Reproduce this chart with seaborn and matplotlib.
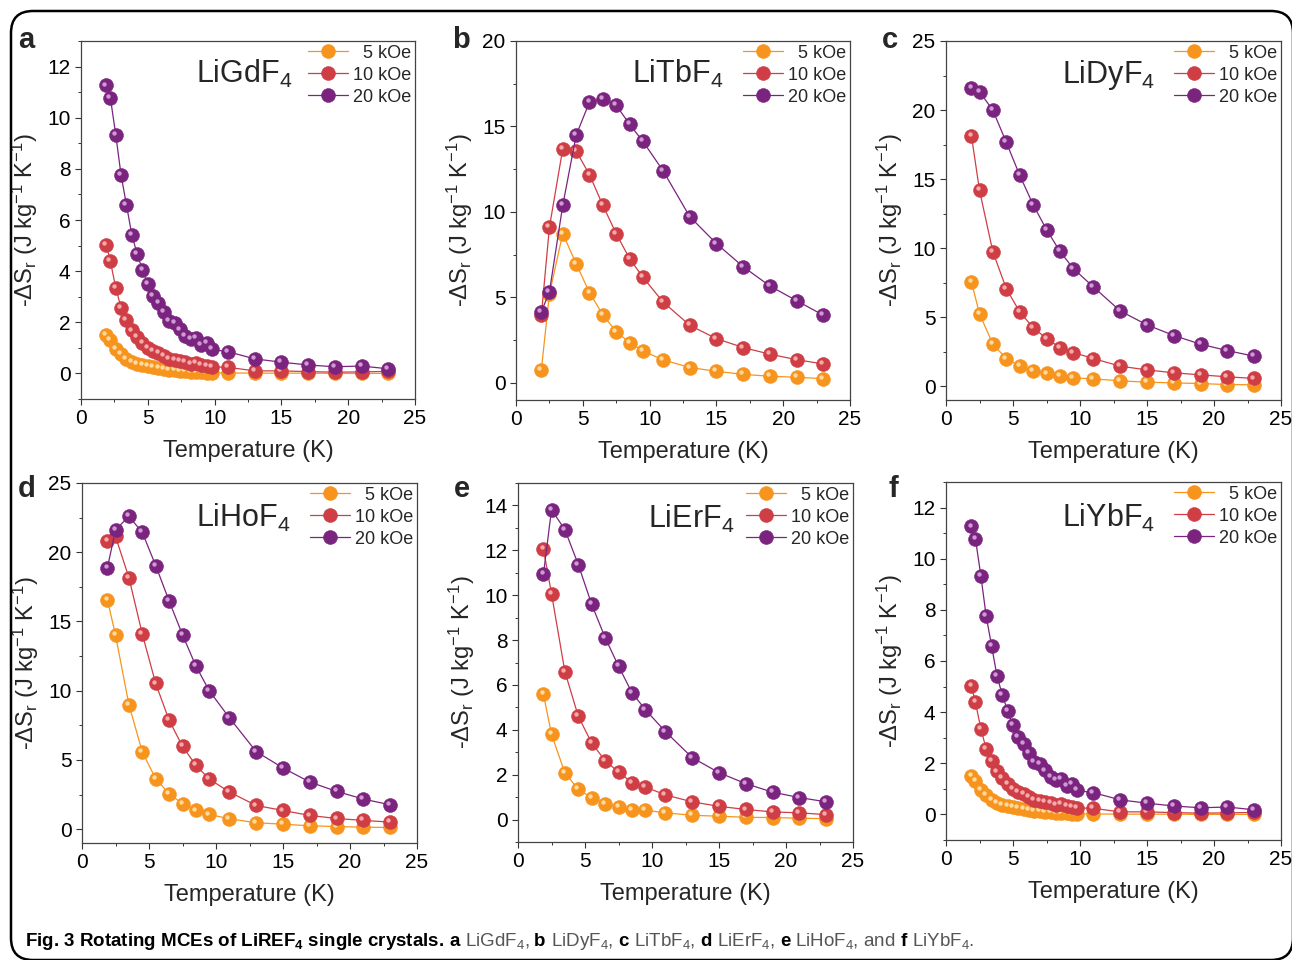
import matplotlib
matplotlib.use("Agg")
import matplotlib.pyplot as plt
import matplotlib.patches as mpatches
from matplotlib import font_manager
from matplotlib.ticker import MultipleLocator
from matplotlib.transforms import offset_copy
import seaborn as sns

# temperatures (K)
T_fine = [1.9, 2.2, 2.6, 3.0, 3.4, 3.8, 4.2, 4.6, 5.0, 5.4, 5.8, 6.2, 6.6, 7.0,
          7.4, 7.8, 8.2, 8.6, 9.0, 9.4, 9.8, 11, 13, 15, 17, 19, 21, 23]
T_std = [1.9, 2.5, 3.5, 4.5, 5.5, 6.5, 7.5, 8.5, 9.5, 11, 13, 15, 17, 19, 21, 23]

# a  LiGdF4
gd_5 = [1.5, 1.3, 0.95, 0.75, 0.58, 0.46, 0.38, 0.33, 0.3, 0.25, 0.21, 0.18, 0.15, 0.12,
        0.1, 0.08, 0.06, 0.05, 0.04, 0.03, 0.02, 0.02, 0.01, 0.01, 0.01, 0.0, 0.0, 0.0]
gd_10 = [5.02, 4.38, 3.35, 2.56, 2.1, 1.68, 1.42, 1.18, 1.0, 0.86, 0.8, 0.68, 0.58, 0.53,
         0.5, 0.44, 0.36, 0.42, 0.33, 0.3, 0.25, 0.24, 0.1, 0.1, 0.07, 0.05, 0.06, 0.08]
gd_20 = [11.26, 10.77, 9.34, 7.75, 6.6, 5.43, 4.67, 4.06, 3.48, 3.02, 2.76, 2.4, 2.04, 1.98,
         1.72, 1.46, 1.35, 1.39, 1.13, 1.2, 0.94, 0.85, 0.57, 0.44, 0.33, 0.26, 0.29, 0.18]

# b  LiTbF4
tb_5 = [0.78, 5.2, 8.73, 6.98, 5.28, 3.98, 3.0, 2.36, 1.87, 1.35, 0.9, 0.68, 0.5, 0.39, 0.33, 0.25]
tb_10 = [3.98, 9.1, 13.7, 13.57, 12.18, 10.39, 8.73, 7.27, 6.18, 4.74, 3.37, 2.59, 2.07, 1.68, 1.36, 1.11]
tb_20 = [4.17, 5.32, 10.39, 14.48, 16.43, 16.63, 16.24, 15.13, 14.13, 12.42, 9.73, 8.15, 6.8, 5.67, 4.81, 3.96]

# c  LiDyF4
dy_5 = [7.55, 5.24, 3.04, 2.0, 1.45, 1.11, 0.92, 0.72, 0.6, 0.53, 0.39, 0.29, 0.24, 0.19, 0.12, 0.1]
dy_10 = [18.12, 14.19, 9.72, 7.07, 5.38, 4.25, 3.45, 2.8, 2.44, 2.0, 1.45, 1.18, 0.97, 0.82, 0.68, 0.56]
dy_20 = [21.62, 21.33, 19.98, 17.66, 15.28, 13.15, 11.34, 9.77, 8.52, 7.19, 5.45, 4.44, 3.67, 3.04, 2.58, 2.17]

# d  LiHoF4
ho_5 = [16.55, 14.02, 9.0, 5.57, 3.64, 2.56, 1.83, 1.35, 1.06, 0.75, 0.46, 0.36, 0.24, 0.19, 0.14, 0.12]
ho_10 = [20.78, 21.14, 18.17, 14.09, 10.52, 7.87, 5.98, 4.61, 3.62, 2.68, 1.71, 1.35, 0.99, 0.77, 0.63, 0.51]
ho_20 = [18.89, 21.62, 22.59, 21.43, 19.04, 16.48, 14.04, 11.78, 9.99, 8.04, 5.6, 4.42, 3.4, 2.73, 2.17, 1.76]

# e  LiErF4
er_5 = [5.58, 3.8, 2.08, 1.35, 0.96, 0.71, 0.56, 0.42, 0.42, 0.3, 0.19, 0.15, 0.1, 0.09, 0.06, 0.04]
er_10 = [12.05, 10.07, 6.59, 4.6, 3.41, 2.63, 2.12, 1.65, 1.45, 1.1, 0.79, 0.59, 0.45, 0.34, 0.3, 0.22]
er_20 = [10.94, 13.81, 12.92, 11.36, 9.59, 8.11, 6.84, 5.66, 4.9, 3.92, 2.76, 2.09, 1.6, 1.22, 0.98, 0.79]

# f  LiYbF4 (same curves as panel a in the figure)
yb_5 = list(gd_5)
yb_10 = list(gd_10)
yb_20 = list(gd_20)

fields = ["  5 kOe", "10 kOe", "20 kOe"]
colors = ["#F7941D", "#CF3D45", "#7A237F"]
lights = ["#FFE2B0", "#F6B7B9", "#D9A8DC"]

W, H = 1292, 960

sns.set_style("ticks")
plt.rcParams["font.family"] = ["Liberation Sans", "DejaVu Sans"]
plt.rcParams["mathtext.fontset"] = "custom"
plt.rcParams["mathtext.rm"] = "Liberation Sans"
plt.rcParams["mathtext.it"] = "Liberation Sans"
plt.rcParams["mathtext.bf"] = "Liberation Sans:bold"
plt.rcParams["mathtext.default"] = "rm"

fig = plt.figure(figsize=(W / 100, H / 100), dpi=100)


def px_axes(x0, y0, x1, y1):
    return fig.add_axes([x0 / W, 1 - y1 / H, (x1 - x0) / W, (y1 - y0) / H])


panels = [
    # letter, name, T, series, ylim, major, minor, axes box, name pos, letter pos
    ("a", "LiGdF$_4$", T_fine, [gd_5, gd_10, gd_20], (-1, 13), 2, 1,
     (81, 41, 415, 399), (0.344, 0.883), (18, 48)),
    ("b", "LiTbF$_4$", T_std, [tb_5, tb_10, tb_20], (-1, 20), 5, 2.5,
     (516, 41, 850, 400), (0.347, 0.883), (452, 48)),
    ("c", "LiDyF$_4$", T_std, [dy_5, dy_10, dy_20], (-1, 25), 5, 2.5,
     (946, 41, 1281, 400), (0.346, 0.883), (882, 48)),
    ("d", "LiHoF$_4$", T_std, [ho_5, ho_10, ho_20], (-1, 25), 5, 2.5,
     (82, 483, 417, 843), (0.340, 0.878), (18, 497)),
    ("e", "LiErF$_4$", T_std, [er_5, er_10, er_20], (-1, 15), 2, 1,
     (518, 483, 853, 842), (0.388, 0.875), (454, 497)),
    ("f", "LiYbF$_4$", T_fine, [yb_5, yb_10, yb_20], (-1, 13), 2, 1,
     (946, 482, 1281, 840), (0.346, 0.874), (888, 497)),
]

for letter, name, T, series, ylim, major, minor, box, npos, lpos in panels:
    ax = px_axes(*box)
    for i, (vals, lab, c, lc) in enumerate(zip(series, fields, colors, lights)):
        sns.lineplot(x=T, y=vals, ax=ax, color=c, lw=0.9, marker="o", markersize=10,
                     markeredgecolor=c, markeredgewidth=0.4, label=lab, sort=False,
                     estimator=None, zorder=3 + i * 0.1)
        # little shine on each ball
        shine = offset_copy(ax.transData, fig=fig, x=-1.4, y=1.4, units="points")
        sns.scatterplot(x=T, y=vals, ax=ax, color=lc, s=10, linewidth=0, alpha=0.9,
                        transform=shine, legend=False, zorder=3.05 + i * 0.1)
    ax.set_xlim(0, 25)
    ax.set_ylim(*ylim)
    ax.xaxis.set_major_locator(MultipleLocator(5))
    ax.xaxis.set_minor_locator(MultipleLocator(2.5))
    ax.yaxis.set_major_locator(MultipleLocator(major))
    ax.yaxis.set_minor_locator(MultipleLocator(minor))
    ax.tick_params(which="both", direction="out", labelsize=15, colors="#333333",
                   labelcolor="black")
    ax.tick_params(which="major", length=4, width=0.8)
    ax.tick_params(which="minor", length=2.5, width=0.7)
    for sp in ax.spines.values():
        sp.set_visible(True)
        sp.set_color("#444444")
        sp.set_linewidth(0.9)
    ax.set_xlabel("Temperature (K)", fontsize=17, labelpad=8)
    ax.set_ylabel(r"-$\Delta$S$_r$ (J kg$^{-1}$ K$^{-1}$)", fontsize=17, labelpad=5)
    ax.text(npos[0], npos[1], name, transform=ax.transAxes, fontsize=22,
            ha="left", va="baseline")
    leg = ax.legend(loc="upper right", bbox_to_anchor=(1.0, 1.0), frameon=False,
                    fontsize=13, handlelength=2.2, handletextpad=0.3,
                    borderaxespad=0.0, borderpad=0.2, labelspacing=0.28)
    fig.text(lpos[0] / W, 1 - lpos[1] / H, letter, fontsize=21, fontweight="bold",
             ha="left", va="baseline")

# caption
avail = {f.name for f in font_manager.fontManager.ttflist}
cap_font = "Liberation Sans Narrow" if "Liberation Sans Narrow" in avail else "Liberation Sans"
cap_size = 16 if cap_font == "Liberation Sans Narrow" else 13.5
caption_parts = [
    ("Fig. 3 Rotating MCEs of LiREF$_\\mathbf{4}$ single crystals.", "bold", "black"),
    ("a", "bold", "black"), ("LiGdF$_4$,", "normal", "#555555"),
    ("b", "bold", "black"), ("LiDyF$_4$,", "normal", "#555555"),
    ("c", "bold", "black"), ("LiTbF$_4$,", "normal", "#555555"),
    ("d", "bold", "black"), ("LiErF$_4$,", "normal", "#555555"),
    ("e", "bold", "black"), ("LiHoF$_4$, and", "normal", "#555555"),
    ("f", "bold", "black"), ("LiYbF$_4$.", "normal", "#555555"),
]
renderer = fig.canvas.get_renderer()
x = 25
gap = cap_size * 100 / 72 * 0.27
for txt, wt, col in caption_parts:
    t = fig.text(x / W, 1 - 946 / H, txt, fontsize=cap_size, fontweight=wt, color=col,
                 family=[cap_font, "DejaVu Sans"], ha="left", va="baseline")
    bb = t.get_window_extent(renderer)
    x = bb.x1 + gap

# rounded frame around the whole figure
frame = mpatches.FancyBboxPatch((11, 0), 1282, 949,
                                boxstyle="round,pad=0,rounding_size=22",
                                transform=None, fill=False, lw=1.8, ec="black")
fig.add_artist(frame)

fig.savefig("out.png", dpi=100)
